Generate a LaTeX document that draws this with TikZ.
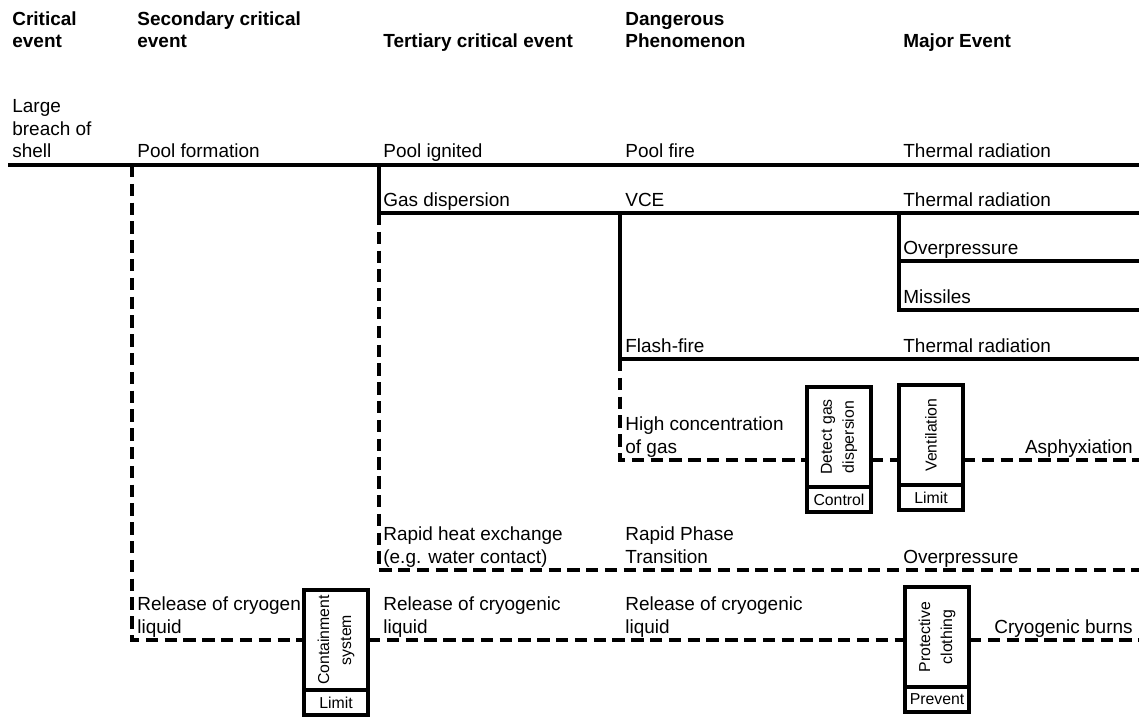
\documentclass[tikz,border=0pt]{standalone}
\usepackage{fontspec}
\setmainfont{Liberation Sans}
\usetikzlibrary{positioning}

\begin{document}
\begin{tikzpicture}[x=0.2mm, y=-0.2mm,
    lbl/.style={anchor=base west, inner sep=0pt, align=left, font=\fontsize{10.8}{13}\selectfont},
    head/.style={lbl, font=\fontsize{10.8}{13}\selectfont\bfseries},
    solidline/.style={line width=2.3pt},
    dashline/.style={line width=1.9pt, dash pattern=on 7pt off 3.7pt},
    barrier/.style={draw, fill=white, line width=2.2pt, rotate=90, minimum width=20mm, minimum height=12.8mm,
        inner sep=1pt, outer sep=0pt, align=center, font=\fontsize{9}{12.5}\selectfont},
    action/.style={draw, fill=white, line width=2.2pt, anchor=north, minimum width=12.8mm, minimum height=5mm,
        inner sep=0pt, outer sep=0pt, font=\fontsize{9}{11}\selectfont}]
    \useasboundingbox (0,0) rectangle (1139,717);

    % column heads
    \node[head] (hCrit) at (12,48) {Critical\\event};
    \node[head] (hSec) at (137,48) {Secondary critical\\event};
    \node[head] (hTer) at (383,48) {Tertiary critical event};
    \node[head] (hDan) at (625,48) {Dangerous\\Phenomenon};
    \node[head] (hMaj) at (903,48) {Major Event};

    % branch points
    \coordinate (mainL) at (8,165);
    \coordinate (mainR) at (1139,165);
    \coordinate (brSec) at (132,165);
    \coordinate (brTer) at (379,165);
    \coordinate (brVce) at (620,213);
    \coordinate (brOver) at (899,213);
    \coordinate (gasR) at (1139,213);
    \coordinate (overR) at (1139,261);
    \coordinate (misR) at (1139,310);
    \coordinate (flashR) at (1139,359);
    \coordinate (highR) at (1139,460);
    \coordinate (heatR) at (1139,570);
    \coordinate (cryoR) at (1139,640);

    % barriers
    \node[barrier] (det) at (839,437) {Detect gas\\dispersion};
    \node[action] (detAct) at (det.west) {Control};
    \node[barrier] (vent) at (931,435) {Ventilation};
    \node[action] (ventAct) at (vent.west) {Limit};
    \node[barrier] (cont) at (336,640) {Containment\\system};
    \node[action] (contAct) at (cont.west) {Limit};
    \node[barrier] (prot) at (937,637) {Protective\\clothing};
    \node[action] (protAct) at (prot.west) {Prevent};

    \draw[solidline] (mainL) -- (mainR);
    \draw[solidline] (brTer) |- (gasR);
    \draw[solidline] (brVce) |- (flashR);
    \draw[solidline] (brOver) |- (misR);
    \draw[solidline] (brOver |- overR) -- (overR);
    \draw[dashline] (brTer |- gasR) |- (heatR);
    \draw[dashline] (brVce |- flashR) |- (det.north |- highR);
    \draw[dashline] (det.south |- highR) -- (vent.north |- highR);
    \draw[dashline] (vent.south |- highR) -- (highR);
    \draw[dashline] (brSec) |- (cont.north |- cryoR);
    \draw[dashline] (cont.south |- cryoR) -- (prot.north |- cryoR);
    \draw[dashline] (prot.south |- cryoR) -- (cryoR);

    % events
    \node[lbl] (breach) at (12,158) {Large\\breach of\\shell};
    \node[lbl] (poolForm) at (137,158) {Pool formation};
    \node[lbl] (poolIgn) at (383,158) {Pool ignited};
    \node[lbl] (poolFire) at (625,158) {Pool fire};
    \node[lbl] (thermA) at (903,158) {Thermal radiation};
    \node[lbl] (gasDisp) at (383,207) {Gas dispersion};
    \node[lbl] (vce) at (625,207) {VCE};
    \node[lbl] (thermB) at (903,207) {Thermal radiation};
    \node[lbl] (overA) at (903,254) {Overpressure};
    \node[lbl] (missiles) at (903,303) {Missiles};
    \node[lbl] (flash) at (625,352) {Flash-fire};
    \node[lbl] (thermC) at (903,352) {Thermal radiation};
    \node[lbl] (highConc) at (625,453) {High concentration\\of gas};
    \node[lbl, anchor=base east] (asphyx) at (1133,453) {Asphyxiation};
    \node[lbl] (rapidHeat) at (383,563) {Rapid heat exchange\\(e.g. water contact)};
    \node[lbl] (rpt) at (625,563) {Rapid Phase\\Transition};
    \node[lbl] (overB) at (903,563) {Overpressure};
    \node[lbl] (relA) at (137,633) {Release of cryogen\\liquid};
    \node[lbl] (relB) at (383,633) {Release of cryogenic\\liquid};
    \node[lbl] (relC) at (625,633) {Release of cryogenic\\liquid};
    \node[lbl, anchor=base east] (burns) at (1133,633) {Cryogenic burns};
\end{tikzpicture}
\end{document}
